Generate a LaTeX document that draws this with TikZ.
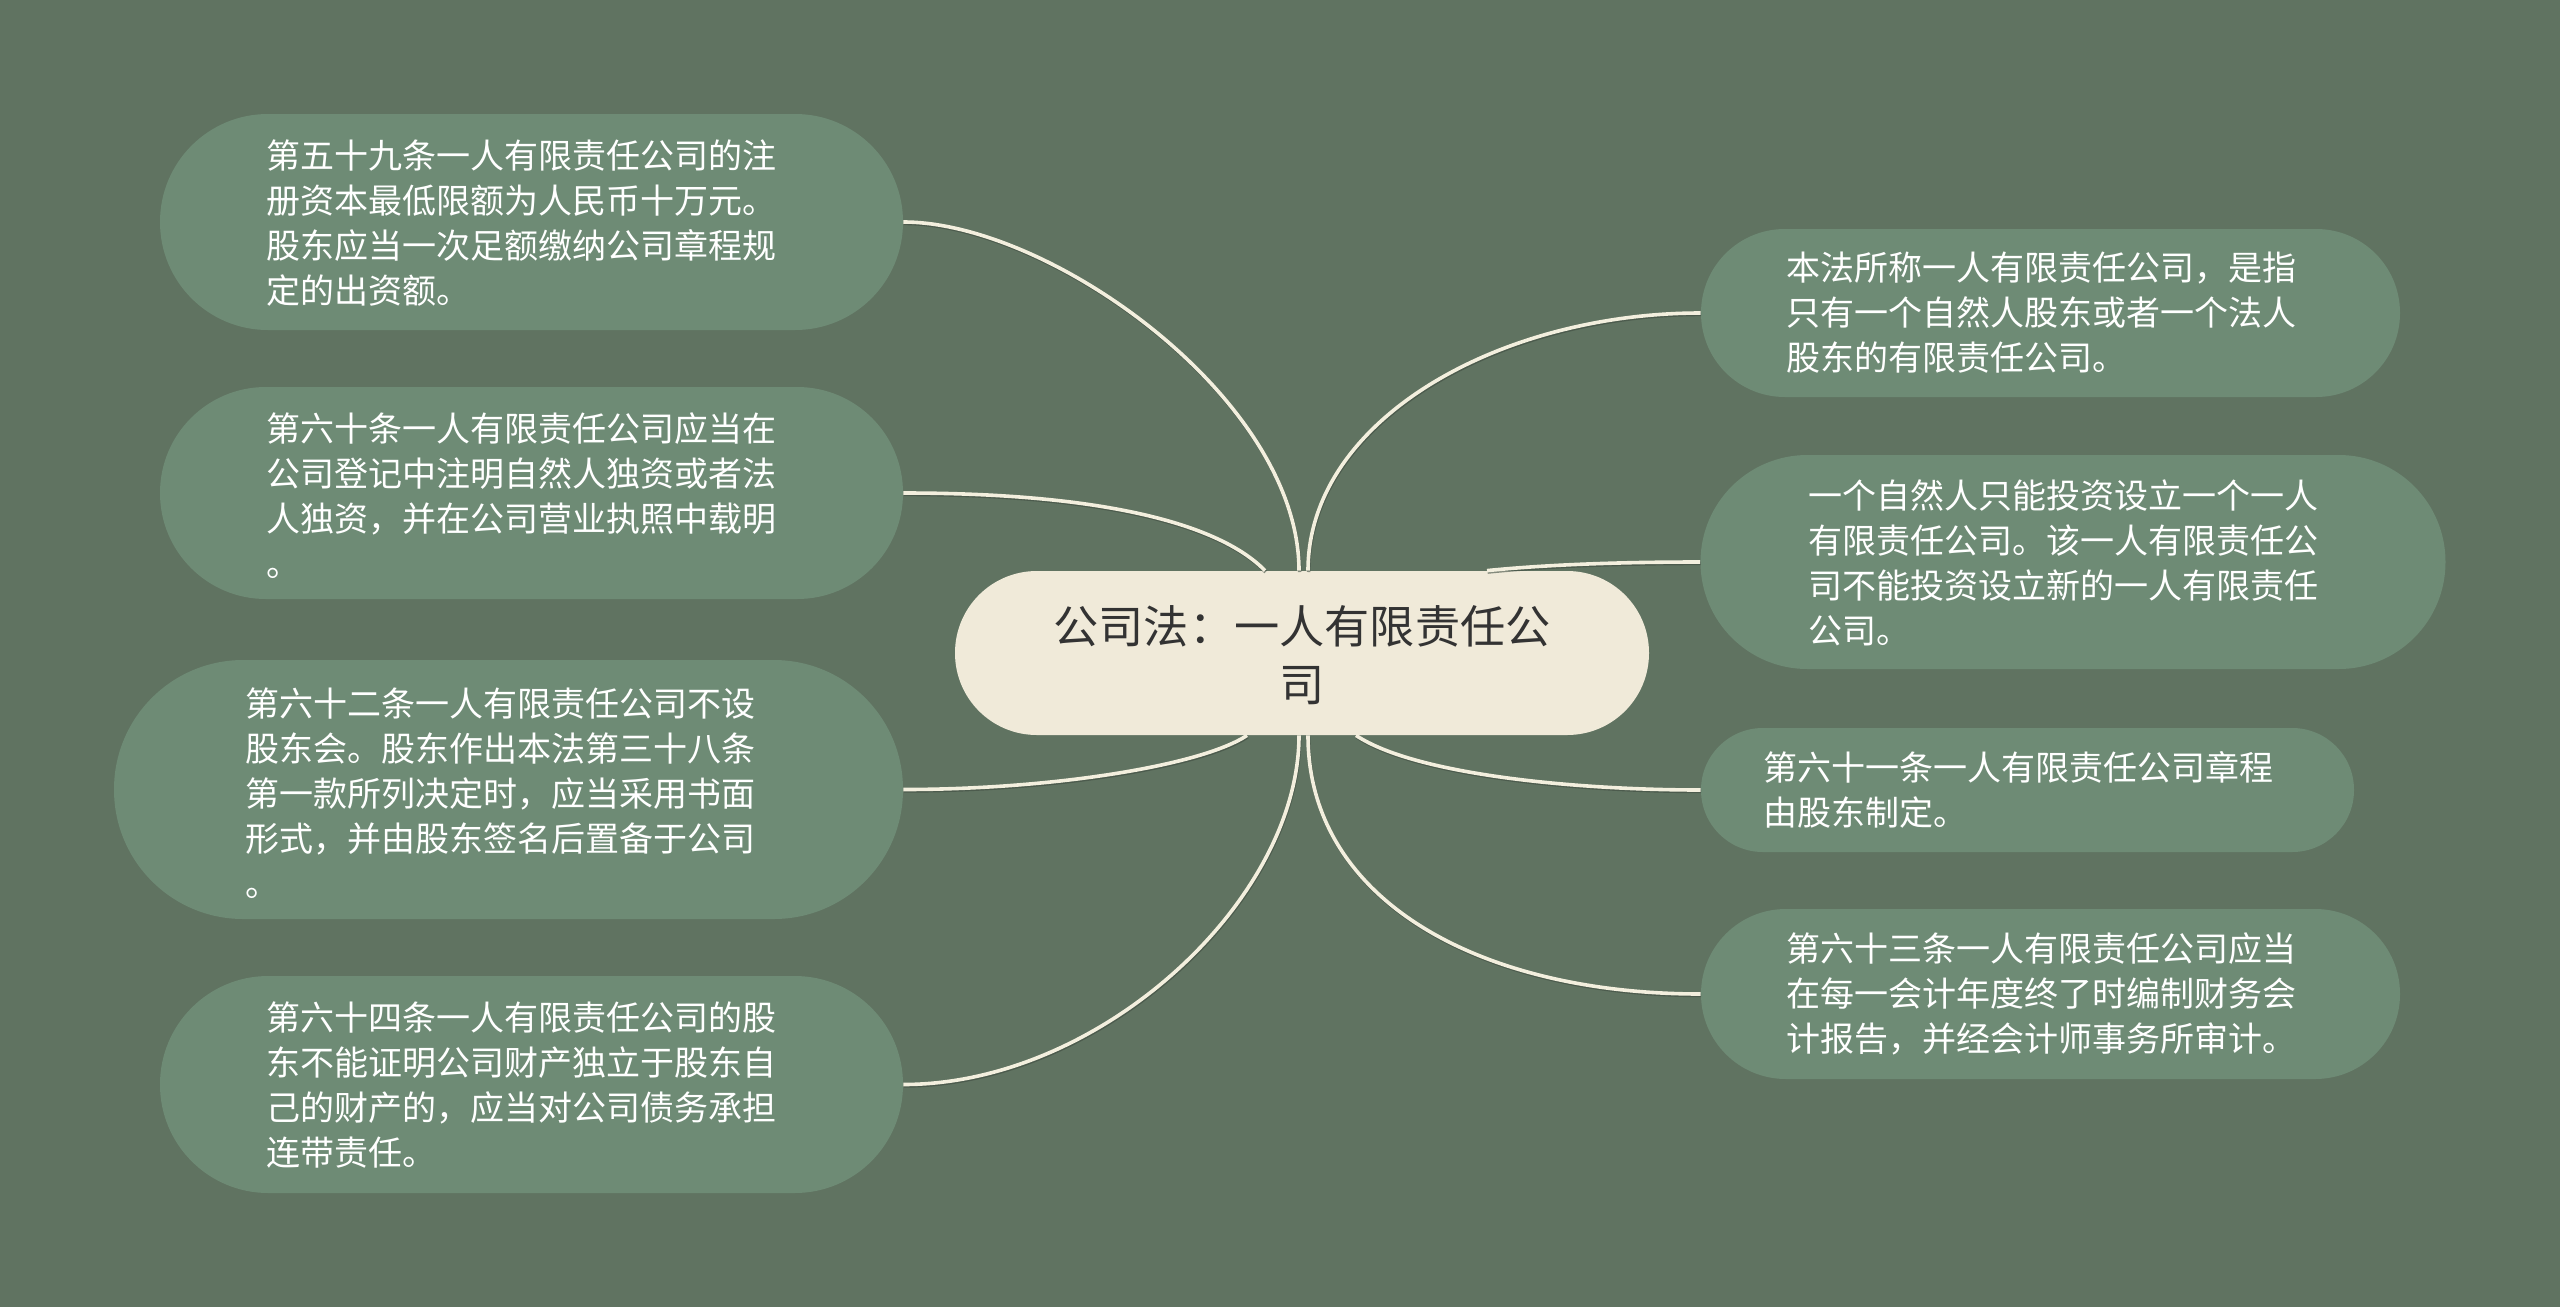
\documentclass[tikz,border=0pt]{standalone}
\usepackage{fontspec}
\newfontfamily\cjk{Noto Sans CJK SC}
\usetikzlibrary{calc}
\definecolor{bgc}{HTML}{607361}
\definecolor{leafc}{HTML}{6E8B75}
\definecolor{centerc}{HTML}{F0EAD9}
\definecolor{linec}{HTML}{F3EFDE}
\definecolor{shadowc}{HTML}{3F4C40}
\definecolor{ctext}{HTML}{333333}
\begin{document}
\begin{tikzpicture}[x=0.5pt,y=-0.5pt,
  leafbox/.style={fill=leafc, draw=none, inner sep=0pt, rectangle},
  leaftext/.style={anchor=west, align=left, inner sep=0pt, text=white,
    font={\cjk\fontsize{17}{22.5}\selectfont}},
  conn/.style={draw=linec, line width=1.8pt,
    preaction={draw=shadowc, line width=1.8pt, opacity=0.6,
      transform canvas={xshift=0.3pt,yshift=-0.7pt}}}]
\fill[bgc] (0,0) rectangle (2560,1307);
\useasboundingbox (0,0) rectangle (2560,1307);

% centre
\node[fill=centerc, draw=none, inner sep=0pt, minimum width=347pt, minimum height=82pt, rounded corners=40.9pt] (C) at (1302,653) {};
\node[align=center, inner sep=0pt, text=ctext, font={\cjk\fontsize{22.6}{29}\selectfont}] (tc) at (1302,655) {公司法：一人有限责任公\\司};

% left leaves
\node[leafbox, minimum width=371.5pt, minimum height=108pt, rounded corners=53.9pt] (L1) at (531.5,222) {};
\node[leaftext] (t1) at (266,223) {第五十九条一人有限责任公司的注\\册资本最低限额为人民币十万元。\\股东应当一次足额缴纳公司章程规\\定的出资额。};

\node[leafbox, minimum width=371.5pt, minimum height=106pt, rounded corners=52.9pt] (L2) at (531.5,493) {};
\node[leaftext] (t2) at (266,496) {第六十条一人有限责任公司应当在\\公司登记中注明自然人独资或者法\\人独资，并在公司营业执照中载明\\。};

\node[leafbox, minimum width=394.5pt, minimum height=129.5pt, rounded corners=64.6pt] (L3) at (508.5,789.5) {};
\node[leaftext] (t3) at (245,793) {第六十二条一人有限责任公司不设\\股东会。股东作出本法第三十八条\\第一款所列决定时，应当采用书面\\形式，并由股东签名后置备于公司\\。};

\node[leafbox, minimum width=371.5pt, minimum height=108.5pt, rounded corners=54.1pt] (L4) at (531.5,1084.5) {};
\node[leaftext] (t4) at (266,1085) {第六十四条一人有限责任公司的股\\东不能证明公司财产独立于股东自\\己的财产的，应当对公司债务承担\\连带责任。};

% right leaves
\node[leafbox, minimum width=349.5pt, minimum height=84pt, rounded corners=41.9pt] (R1) at (2050.5,313) {};
\node[leaftext] (t5) at (1786,313) {本法所称一人有限责任公司，是指\\只有一个自然人股东或者一个法人\\股东的有限责任公司。};

\node[leafbox, minimum width=372.5pt, minimum height=107pt, rounded corners=53.4pt] (R2) at (2073,562) {};
\node[leaftext] (t6) at (1808,563) {一个自然人只能投资设立一个一人\\有限责任公司。该一人有限责任公\\司不能投资设立新的一人有限责任\\公司。};

\node[leafbox, minimum width=326.5pt, minimum height=62pt, rounded corners=30.9pt] (R3) at (2027.5,790) {};
\node[leaftext] (t7) at (1763,790) {第六十一条一人有限责任公司章程\\由股东制定。};

\node[leafbox, minimum width=349.5pt, minimum height=85pt, rounded corners=42.4pt] (R4) at (2050.5,994) {};
\node[leaftext] (t8) at (1786,994) {第六十三条一人有限责任公司应当\\在每一会计年度终了时编制财务会\\计报告，并经会计师事务所审计。};

% connectors
\draw[conn] (L1.east) .. controls +(147,0) and +(0,-171) .. ($(C.north)+(-3,0)$);
\draw[conn] (L2.east) .. controls +(247,0) and +(-30,-31) .. ($(C.north)+(-37,0)$);
\draw[conn] (R1.west) .. controls +(-201,0) and +(0,-151) .. ($(C.north)+(6,0)$);
\draw[conn] (R2.west) .. controls +(-80,0) and +(60,-6) .. ($(C.north)+(185,0)$);
\draw[conn] (L3.east) .. controls +(150,0) and +(-45,30) .. ($(C.south)+(-55,0)$);
\draw[conn] (L4.east) .. controls +(197,0) and +(0,165) .. ($(C.south)+(-3,0)$);
\draw[conn] (R4.west) .. controls +(-221,0) and +(0,165) .. ($(C.south)+(6,0)$);
\draw[conn] (R3.west) .. controls +(-121,0) and +(60,40) .. ($(C.south)+(54,0)$);
\end{tikzpicture}
\end{document}
